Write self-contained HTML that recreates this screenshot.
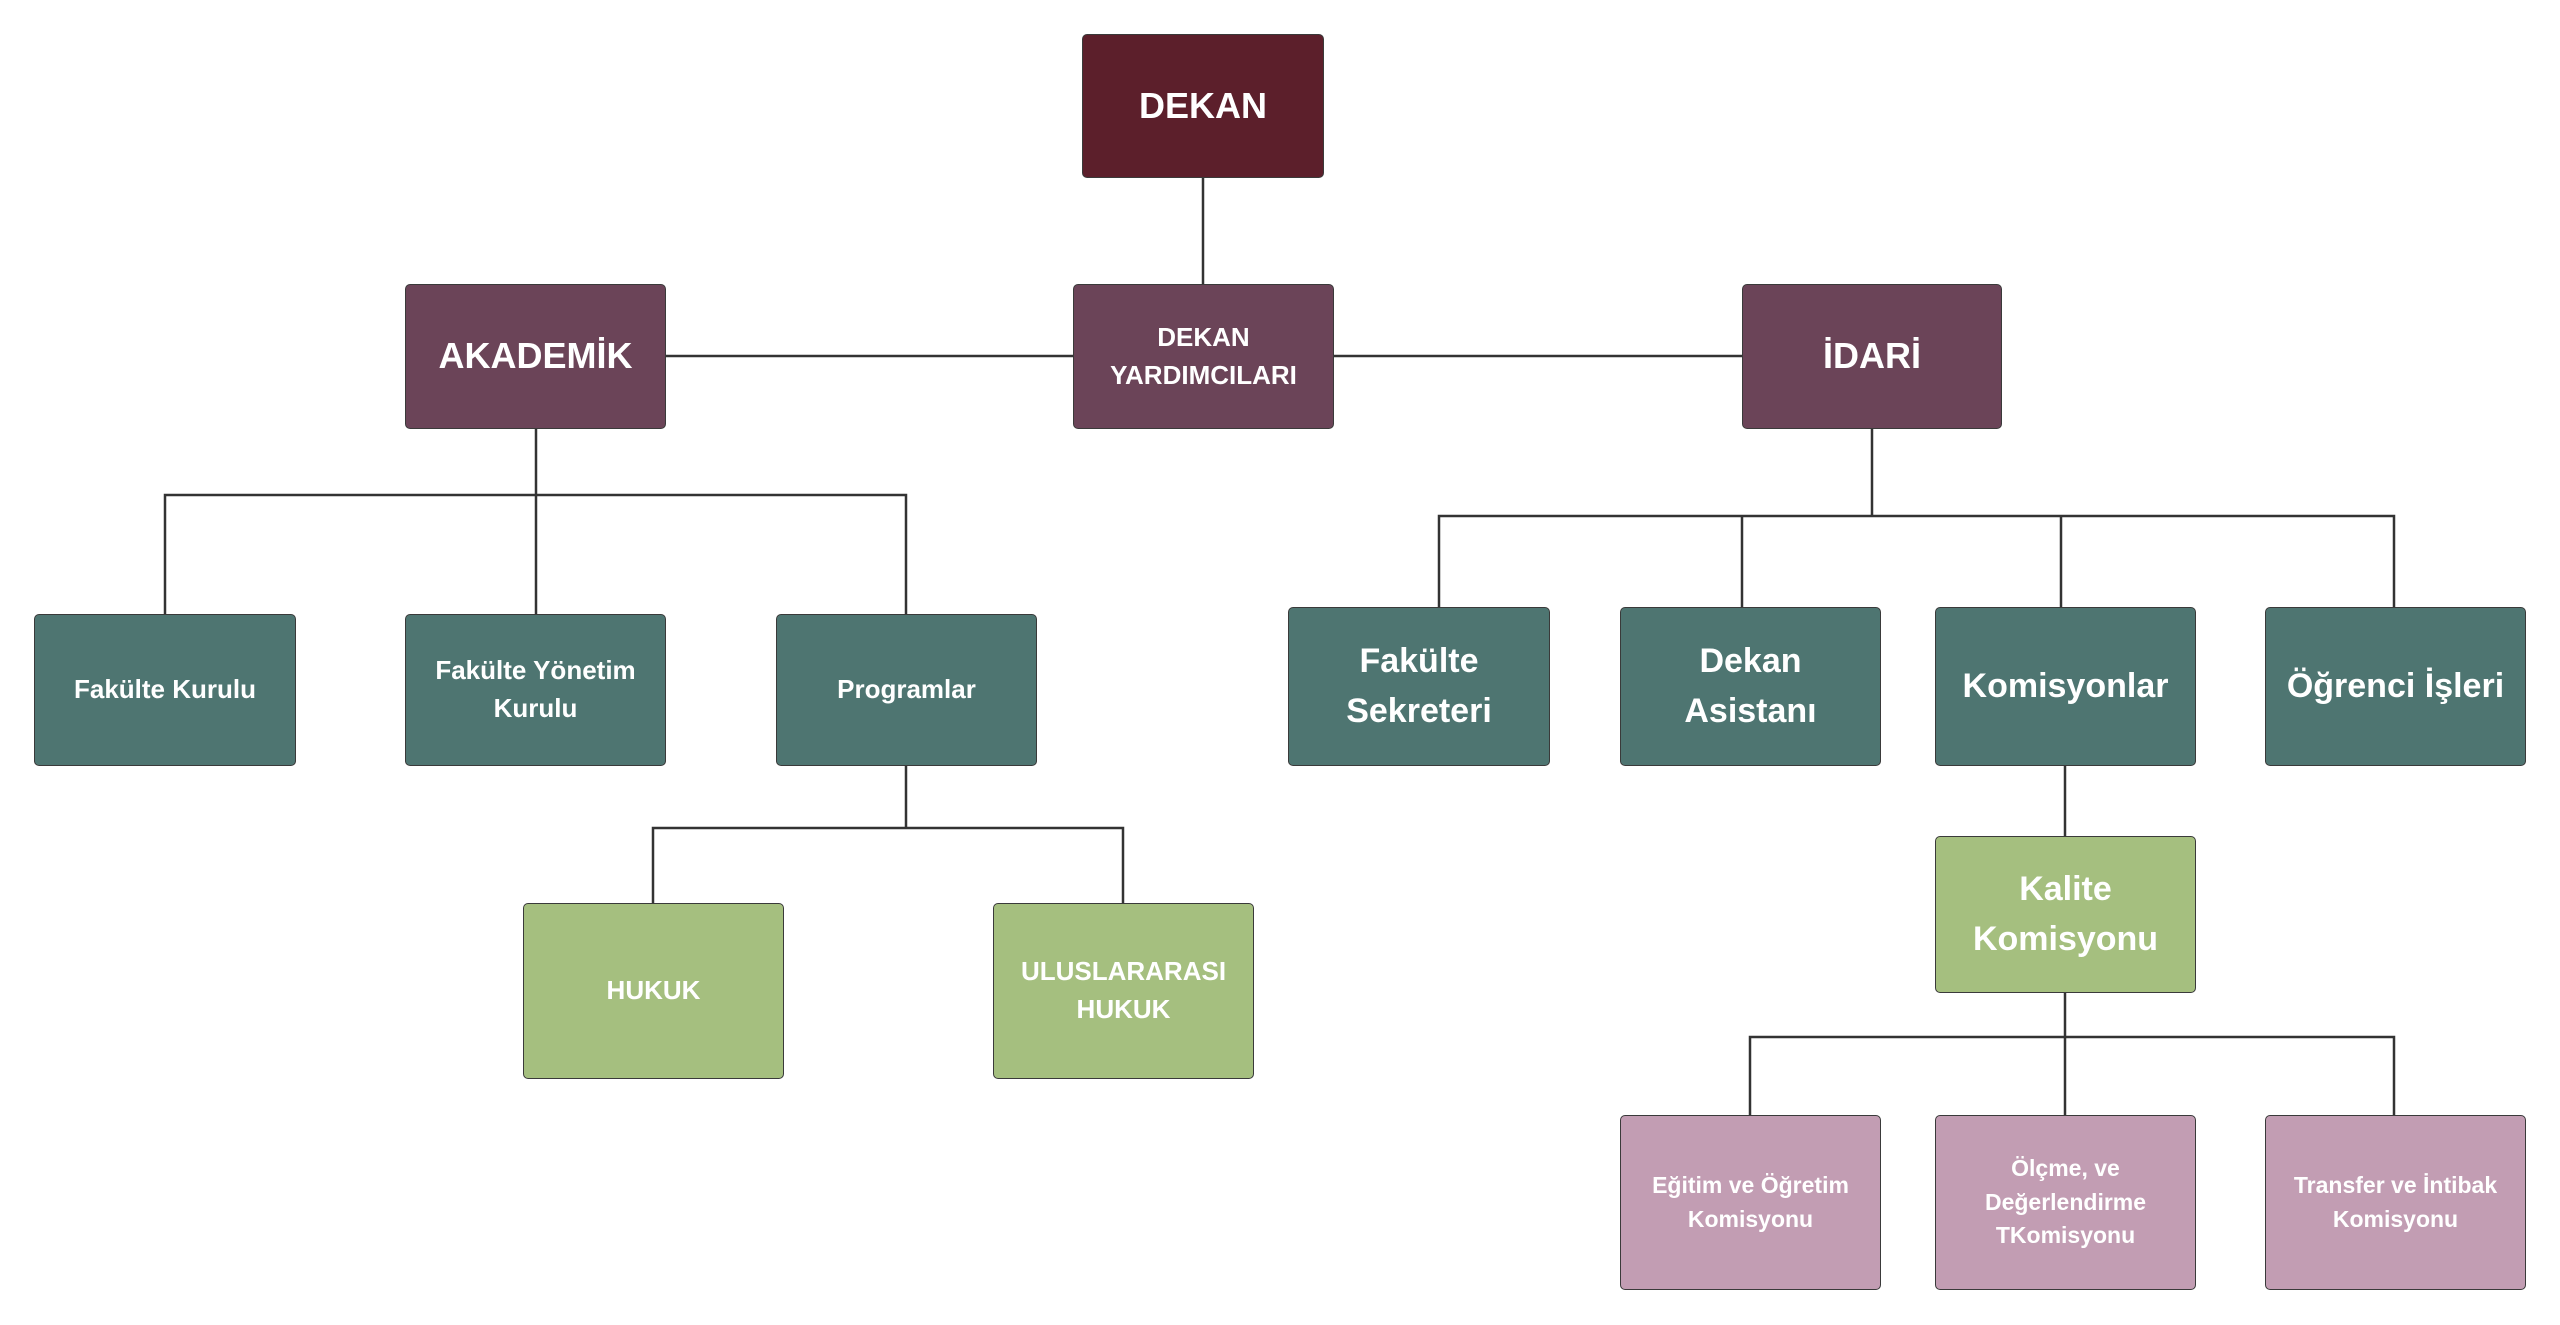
<!DOCTYPE html>
<html><head><meta charset="utf-8"><style>
body{margin:0;width:2560px;height:1325px;background:#fff;position:relative;overflow:hidden;font-family:"Liberation Sans",sans-serif;}
.b{position:absolute;display:flex;align-items:center;justify-content:center;text-align:center;color:#fff;font-weight:bold;border-radius:5px;border:1.5px solid #3a3a3a;box-sizing:border-box;line-height:1.45;}
.r{background:#5c1f2b}.p{background:#6b4458}.t{background:#4e7571}.g{background:#a5bf7f}.k{background:#c29db3}
svg{position:absolute;left:0;top:0}
</style></head><body>
<svg width="2560" height="1325"><g stroke="#333" stroke-width="2.5" fill="none">
<path d="M1203 178V284"/>
<path d="M666 356H1073M1334 356H1742"/>
<path d="M536 429V614M165 614V495H906V614"/>
<path d="M906 766V828M653 903V828H1123V903"/>
<path d="M1872 429V516M1439 607V516H2394V607M1742 516V607M2061 516V607"/>
<path d="M2065 766V836"/>
<path d="M2065 993V1115M1750 1115V1037H2394V1115"/>
</g></svg>
<div class="b r" style="left:1082px;top:34px;width:242px;height:144px;font-size:36px">DEKAN</div>
<div class="b p" style="left:1073px;top:284px;width:261px;height:145px;font-size:26px">DEKAN<br>YARDIMCILARI</div>
<div class="b p" style="left:405px;top:284px;width:261px;height:145px;font-size:36px">AKADEMİK</div>
<div class="b p" style="left:1742px;top:284px;width:260px;height:145px;font-size:36px">İDARİ</div>
<div class="b t" style="left:34px;top:614px;width:262px;height:152px;font-size:26px">Fakülte Kurulu</div>
<div class="b t" style="left:405px;top:614px;width:261px;height:152px;font-size:26px">Fakülte Yönetim<br>Kurulu</div>
<div class="b t" style="left:776px;top:614px;width:261px;height:152px;font-size:26px">Programlar</div>
<div class="b g" style="left:523px;top:903px;width:261px;height:176px;font-size:26px">HUKUK</div>
<div class="b g" style="left:993px;top:903px;width:261px;height:176px;font-size:26px">ULUSLARARASI<br>HUKUK</div>
<div class="b t" style="left:1288px;top:607px;width:262px;height:159px;font-size:34px">Fakülte<br>Sekreteri</div>
<div class="b t" style="left:1620px;top:607px;width:261px;height:159px;font-size:34px">Dekan<br>Asistanı</div>
<div class="b t" style="left:1935px;top:607px;width:261px;height:159px;font-size:34px">Komisyonlar</div>
<div class="b t" style="left:2265px;top:607px;width:261px;height:159px;font-size:34px">Öğrenci İşleri</div>
<div class="b g" style="left:1935px;top:836px;width:261px;height:157px;font-size:34px">Kalite<br>Komisyonu</div>
<div class="b k" style="left:1620px;top:1115px;width:261px;height:175px;font-size:23px">Eğitim ve Öğretim<br>Komisyonu</div>
<div class="b k" style="left:1935px;top:1115px;width:261px;height:175px;font-size:23px">Ölçme, ve<br>Değerlendirme<br>TKomisyonu</div>
<div class="b k" style="left:2265px;top:1115px;width:261px;height:175px;font-size:23px">Transfer ve İntibak<br>Komisyonu</div>
</body></html>
